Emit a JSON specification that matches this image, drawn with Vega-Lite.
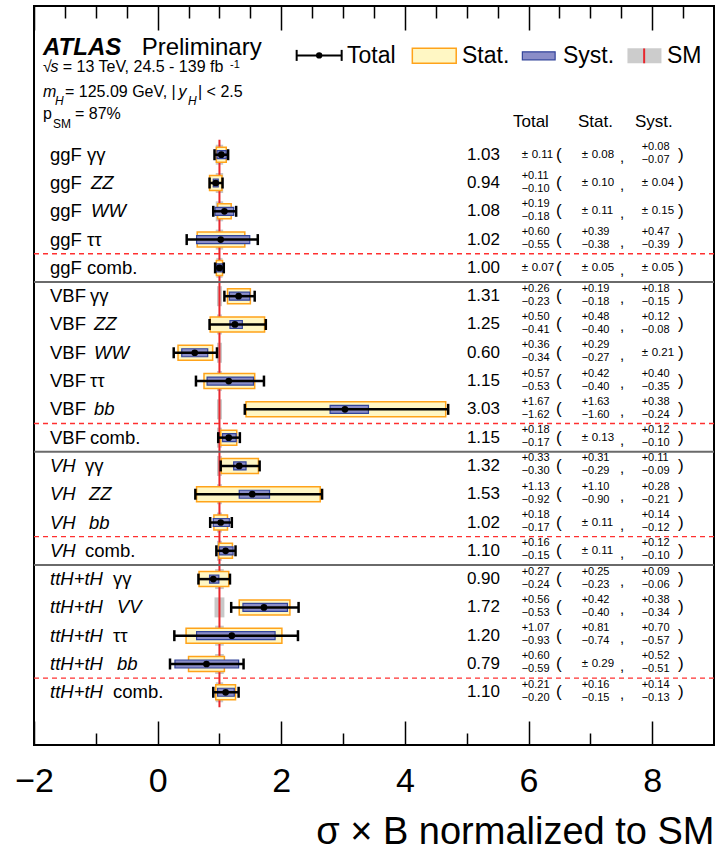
{
  "$schema": "https://vega.github.io/schema/vega-lite/v6.json",
  "width": 680,
  "height": 739,
  "autosize": {"type": "none"},
  "padding": {"left": 34, "top": 6, "right": 2, "bottom": 107},
  "background": "white",
  "config": {
    "view": {"stroke": "black", "strokeWidth": 2},
    "font": "Liberation Sans",
    "text": {"color": "black", "font": "Liberation Sans"}
  },
  "data": {"name": "rows"},
  "datasets": {
    "rows": [
      {"pos": 0, "prod": "ggF", "dec": "γγ", "mu": 1.03, "tlo": 0.92, "thi": 1.14, "slo": 0.95, "shi": 1.11, "ylo": 0.96, "yhi": 1.11, "smlo": 0.94, "smhi": 1.06, "tu": 0.11, "td": -0.11, "su": 0.08, "sd": -0.08, "yu": 0.08, "yd": -0.07},
      {"pos": 1, "prod": "ggF", "dec": "ZZ", "mu": 0.94, "tlo": 0.84, "thi": 1.05, "slo": 0.84, "shi": 1.04, "ylo": 0.90, "yhi": 0.98, "smlo": 0.94, "smhi": 1.06, "tu": 0.11, "td": -0.10, "su": 0.10, "sd": -0.10, "yu": 0.04, "yd": -0.04},
      {"pos": 2, "prod": "ggF", "dec": "WW", "mu": 1.08, "tlo": 0.90, "thi": 1.27, "slo": 0.97, "shi": 1.19, "ylo": 0.93, "yhi": 1.23, "smlo": 0.94, "smhi": 1.06, "tu": 0.19, "td": -0.18, "su": 0.11, "sd": -0.11, "yu": 0.15, "yd": -0.15},
      {"pos": 3, "prod": "ggF", "dec": "ττ", "mu": 1.02, "tlo": 0.47, "thi": 1.62, "slo": 0.64, "shi": 1.41, "ylo": 0.63, "yhi": 1.49, "smlo": 0.94, "smhi": 1.06, "tu": 0.60, "td": -0.55, "su": 0.39, "sd": -0.38, "yu": 0.47, "yd": -0.39},
      {"pos": 4, "prod": "ggF", "dec": "comb.", "mu": 1.00, "tlo": 0.93, "thi": 1.07, "slo": 0.95, "shi": 1.05, "ylo": 0.95, "yhi": 1.05, "smlo": 0.95, "smhi": 1.05, "tu": 0.07, "td": -0.07, "su": 0.05, "sd": -0.05, "yu": 0.05, "yd": -0.05},
      {"pos": 5, "prod": "VBF", "dec": "γγ", "mu": 1.31, "tlo": 1.08, "thi": 1.57, "slo": 1.13, "shi": 1.50, "ylo": 1.16, "yhi": 1.49, "smlo": 0.96, "smhi": 1.04, "tu": 0.26, "td": -0.23, "su": 0.19, "sd": -0.18, "yu": 0.18, "yd": -0.15},
      {"pos": 6, "prod": "VBF", "dec": "ZZ", "mu": 1.25, "tlo": 0.84, "thi": 1.75, "slo": 0.85, "shi": 1.73, "ylo": 1.17, "yhi": 1.37, "smlo": 0.96, "smhi": 1.04, "tu": 0.50, "td": -0.41, "su": 0.48, "sd": -0.40, "yu": 0.12, "yd": -0.08},
      {"pos": 7, "prod": "VBF", "dec": "WW", "mu": 0.60, "tlo": 0.26, "thi": 0.96, "slo": 0.33, "shi": 0.89, "ylo": 0.39, "yhi": 0.81, "smlo": 0.96, "smhi": 1.04, "tu": 0.36, "td": -0.34, "su": 0.29, "sd": -0.27, "yu": 0.21, "yd": -0.21},
      {"pos": 8, "prod": "VBF", "dec": "ττ", "mu": 1.15, "tlo": 0.62, "thi": 1.72, "slo": 0.75, "shi": 1.57, "ylo": 0.80, "yhi": 1.55, "smlo": 0.96, "smhi": 1.04, "tu": 0.57, "td": -0.53, "su": 0.42, "sd": -0.40, "yu": 0.40, "yd": -0.35},
      {"pos": 9, "prod": "VBF", "dec": "bb", "mu": 3.03, "tlo": 1.41, "thi": 4.70, "slo": 1.43, "shi": 4.66, "ylo": 2.79, "yhi": 3.41, "smlo": 0.96, "smhi": 1.04, "tu": 1.67, "td": -1.62, "su": 1.63, "sd": -1.60, "yu": 0.38, "yd": -0.24},
      {"pos": 10, "prod": "VBF", "dec": "comb.", "mu": 1.15, "tlo": 0.98, "thi": 1.33, "slo": 1.02, "shi": 1.28, "ylo": 1.05, "yhi": 1.27, "smlo": 0.96, "smhi": 1.04, "tu": 0.18, "td": -0.17, "su": 0.13, "sd": -0.13, "yu": 0.12, "yd": -0.10},
      {"pos": 11, "prod": "VH", "dec": "γγ", "mu": 1.32, "tlo": 1.02, "thi": 1.65, "slo": 1.03, "shi": 1.63, "ylo": 1.23, "yhi": 1.43, "smlo": 0.96, "smhi": 1.04, "tu": 0.33, "td": -0.30, "su": 0.31, "sd": -0.29, "yu": 0.11, "yd": -0.09},
      {"pos": 12, "prod": "VH", "dec": "ZZ", "mu": 1.53, "tlo": 0.61, "thi": 2.66, "slo": 0.63, "shi": 2.63, "ylo": 1.32, "yhi": 1.81, "smlo": 0.96, "smhi": 1.04, "tu": 1.13, "td": -0.92, "su": 1.10, "sd": -0.90, "yu": 0.28, "yd": -0.21},
      {"pos": 13, "prod": "VH", "dec": "bb", "mu": 1.02, "tlo": 0.85, "thi": 1.20, "slo": 0.91, "shi": 1.13, "ylo": 0.90, "yhi": 1.16, "smlo": 0.96, "smhi": 1.04, "tu": 0.18, "td": -0.17, "su": 0.11, "sd": -0.11, "yu": 0.14, "yd": -0.12},
      {"pos": 14, "prod": "VH", "dec": "comb.", "mu": 1.10, "tlo": 0.95, "thi": 1.26, "slo": 0.99, "shi": 1.21, "ylo": 1.00, "yhi": 1.22, "smlo": 0.96, "smhi": 1.04, "tu": 0.16, "td": -0.15, "su": 0.11, "sd": -0.11, "yu": 0.12, "yd": -0.10},
      {"pos": 15, "prod": "ttH+tH", "dec": "γγ", "mu": 0.90, "tlo": 0.66, "thi": 1.17, "slo": 0.67, "shi": 1.15, "ylo": 0.84, "yhi": 0.99, "smlo": 0.93, "smhi": 1.07, "tu": 0.27, "td": -0.24, "su": 0.25, "sd": -0.23, "yu": 0.09, "yd": -0.06},
      {"pos": 16, "prod": "ttH+tH", "dec": "VV", "mu": 1.72, "tlo": 1.19, "thi": 2.28, "slo": 1.32, "shi": 2.14, "ylo": 1.38, "yhi": 2.10, "smlo": 0.92, "smhi": 1.08, "tu": 0.56, "td": -0.53, "su": 0.42, "sd": -0.40, "yu": 0.38, "yd": -0.34},
      {"pos": 17, "prod": "ttH+tH", "dec": "ττ", "mu": 1.20, "tlo": 0.27, "thi": 2.27, "slo": 0.46, "shi": 2.01, "ylo": 0.63, "yhi": 1.90, "smlo": 0.93, "smhi": 1.07, "tu": 1.07, "td": -0.93, "su": 0.81, "sd": -0.74, "yu": 0.70, "yd": -0.57},
      {"pos": 18, "prod": "ttH+tH", "dec": "bb", "mu": 0.79, "tlo": 0.20, "thi": 1.39, "slo": 0.50, "shi": 1.08, "ylo": 0.28, "yhi": 1.31, "smlo": 0.93, "smhi": 1.07, "tu": 0.60, "td": -0.59, "su": 0.29, "sd": -0.29, "yu": 0.52, "yd": -0.51},
      {"pos": 19, "prod": "ttH+tH", "dec": "comb.", "mu": 1.10, "tlo": 0.90, "thi": 1.31, "slo": 0.94, "shi": 1.26, "ylo": 0.97, "yhi": 1.24, "smlo": 0.94, "smhi": 1.06, "tu": 0.21, "td": -0.20, "su": 0.16, "sd": -0.15, "yu": 0.14, "yd": -0.13}
    ]
  },
  "resolve": {"axis": {"x": "independent"}},
  "layer": [
    {
      "mark": {"type": "bar", "orient": "horizontal", "size": 20, "color": "#c8c8c8"},
      "encoding": {
        "x": {"field": "smlo", "type": "quantitative", "scale": {"domain": [-2, 9], "nice": false, "zero": false},
          "axis": {"orient": "bottom", "values": [-2, -1.5, -1, -0.5, 0, 0.5, 1, 1.5, 2, 2.5, 3, 3.5, 4, 4.5, 5, 5.5, 6, 6.5, 7, 7.5, 8, 8.5],
            "format": "d", "labelExpr": "datum.value % 2 == 0 ? datum.label : ''",
            "labelFont": "Liberation Sans", "labelFontSize": 34, "labelColor": "black", "labelPadding": 43, "labelBaseline": "top",
            "labelFlush": false, "labelOverlap": false, "domain": false, "grid": false,
            "tickColor": "black", "tickWidth": 1.5,
            "tickSize": {"condition": {"test": "datum.value % 2 == 0", "value": -24}, "value": -12},
            "title": "σ × B normalized to SM", "titleFont": "Liberation Sans", "titleFontSize": 38, "titleFontWeight": "normal",
            "titleColor": "black", "titleAnchor": "end", "titleAlign": "right", "titleX": 680, "titleY": 98, "titleBaseline": "alphabetic"}},
        "x2": {"field": "smhi"},
        "y": {"field": "pos", "type": "quantitative", "scale": {"domain": [-5.08, 20.687], "reverse": true, "nice": false, "zero": false}, "axis": null}
      }
    },
    {
      "data": {"values": [{}]},
      "mark": {"type": "rule", "color": "#e8262d", "strokeWidth": 2},
      "encoding": {
        "x": {"datum": 1, "type": "quantitative",
          "axis": {"orient": "top", "values": [-2, -1.5, -1, -0.5, 0, 0.5, 1, 1.5, 2, 2.5, 3, 3.5, 4, 4.5, 5, 5.5, 6, 6.5, 7, 7.5, 8, 8.5],
            "labels": false, "domain": false, "grid": false, "title": null, "tickColor": "black", "tickWidth": 1.5,
            "tickSize": {"condition": {"test": "datum.value % 2 == 0", "value": -24}, "value": -12}}},
        "y": {"datum": -0.525, "type": "quantitative", "axis": null},
        "y2": {"datum": 19.53}
      }
    },
    {
      "data": {"values": [{"s": 3.5}, {"s": 9.5}, {"s": 13.5}, {"s": 18.5}]},
      "mark": {"type": "rule", "color": "#ff3030", "strokeWidth": 1.4, "strokeDash": [5, 4]},
      "encoding": {"y": {"field": "s", "type": "quantitative", "axis": null}}
    },
    {
      "data": {"values": [{"s": 4.5}, {"s": 10.5}, {"s": 14.5}]},
      "mark": {"type": "rule", "color": "#6a6a6a", "strokeWidth": 2},
      "encoding": {"y": {"field": "s", "type": "quantitative", "axis": null}}
    },
    {
      "mark": {"type": "bar", "orient": "horizontal", "size": 15, "fill": "#fff7c4", "stroke": "#ffa31a", "strokeWidth": 1.5},
      "encoding": {
        "x": {"field": "slo", "type": "quantitative", "axis": null}, "x2": {"field": "shi"},
        "y": {"field": "pos", "type": "quantitative", "axis": null}
      }
    },
    {
      "mark": {"type": "bar", "orient": "horizontal", "size": 8, "fill": "#8a8dc8", "stroke": "#33449a", "strokeWidth": 1.2},
      "encoding": {
        "x": {"field": "ylo", "type": "quantitative", "axis": null}, "x2": {"field": "yhi"},
        "y": {"field": "pos", "type": "quantitative", "axis": null}
      }
    },
    {
      "mark": {"type": "rule", "color": "black", "strokeWidth": 2.5},
      "encoding": {
        "x": {"field": "tlo", "type": "quantitative", "axis": null}, "x2": {"field": "thi"},
        "y": {"field": "pos", "type": "quantitative", "axis": null}
      }
    },
    {
      "mark": {"type": "tick", "orient": "vertical", "size": 11, "thickness": 2.5, "color": "black", "opacity": 1},
      "encoding": {
        "x": {"field": "tlo", "type": "quantitative", "axis": null},
        "y": {"field": "pos", "type": "quantitative", "axis": null}
      }
    },
    {
      "mark": {"type": "tick", "orient": "vertical", "size": 11, "thickness": 2.5, "color": "black", "opacity": 1},
      "encoding": {
        "x": {"field": "thi", "type": "quantitative", "axis": null},
        "y": {"field": "pos", "type": "quantitative", "axis": null}
      }
    },
    {
      "mark": {"type": "circle", "size": 45, "color": "black", "opacity": 1},
      "encoding": {
        "x": {"field": "mu", "type": "quantitative", "axis": null},
        "y": {"field": "pos", "type": "quantitative", "axis": null}
      }
    },
    {
      "mark": {"type": "text", "fontSize": 18.5, "align": "left", "baseline": "middle",
        "fontStyle": {"expr": "datum.prod == 'VH' || datum.prod == 'ttH+tH' ? 'italic' : 'normal'"}},
      "encoding": {
        "text": {"field": "prod"},
        "x": {"datum": -1.741, "type": "quantitative", "axis": null},
        "y": {"field": "pos", "type": "quantitative", "axis": null}
      }
    },
    {
      "mark": {"type": "text", "fontSize": 18.5, "align": "left", "baseline": "middle",
        "fontStyle": {"expr": "indexof(['ZZ','WW','bb','VV'], datum.dec) >= 0 ? 'italic' : 'normal'"},
        "dx": {"expr": "(datum.prod == 'ggF' ? 37 : datum.prod == 'VBF' ? 40 : datum.prod == 'VH' ? 35 : 63) + (indexof(['ZZ','WW','bb','VV'], datum.dec) >= 0 ? 4 : 0)"}},
      "encoding": {
        "text": {"field": "dec"},
        "x": {"datum": -1.741, "type": "quantitative", "axis": null},
        "y": {"field": "pos", "type": "quantitative", "axis": null}
      }
    },
    {
      "mark": {"type": "text", "fontSize": 17, "align": "right", "baseline": "middle"},
      "encoding": {
        "text": {"field": "mu", "type": "quantitative", "format": ".2f"},
        "x": {"datum": 5.538, "type": "quantitative", "axis": null},
        "y": {"field": "pos", "type": "quantitative", "axis": null}
      }
    },
    {
      "mark": {"type": "text", "fontSize": 17, "align": "left", "baseline": "middle", "text": "("},
      "encoding": {"x": {"datum": 6.444, "type": "quantitative", "axis": null}, "y": {"field": "pos", "type": "quantitative", "axis": null}}
    },
    {
      "mark": {"type": "text", "fontSize": 15, "align": "left", "baseline": "middle", "text": ",", "dy": 2},
      "encoding": {"x": {"datum": 7.479, "type": "quantitative", "axis": null}, "y": {"field": "pos", "type": "quantitative", "axis": null}}
    },
    {
      "mark": {"type": "text", "fontSize": 17, "align": "left", "baseline": "middle", "text": ")"},
      "encoding": {"x": {"datum": 8.417, "type": "quantitative", "axis": null}, "y": {"field": "pos", "type": "quantitative", "axis": null}}
    },
    {
      "transform": [{"filter": "abs(datum.tu + datum.td) < 0.001"}],
      "mark": {"type": "text", "fontSize": 11.5, "align": "left", "baseline": "middle", "text": "±"},
      "encoding": {"x": {"datum": 5.889, "type": "quantitative", "axis": null}, "y": {"field": "pos", "type": "quantitative", "axis": null}}
    },
    {
      "transform": [{"filter": "abs(datum.tu + datum.td) < 0.001"}],
      "mark": {"type": "text", "fontSize": 11.5, "align": "left", "baseline": "middle", "dx": 10},
      "encoding": {"text": {"field": "tu", "type": "quantitative", "format": ".2f"}, "x": {"datum": 5.889, "type": "quantitative", "axis": null}, "y": {"field": "pos", "type": "quantitative", "axis": null}}
    },
    {
      "transform": [{"filter": "abs(datum.tu + datum.td) >= 0.001"}],
      "mark": {"type": "text", "fontSize": 11, "align": "left", "baseline": "alphabetic", "dy": -4.5},
      "encoding": {"text": {"field": "tu", "type": "quantitative", "format": "+.2f"}, "x": {"datum": 5.889, "type": "quantitative", "axis": null}, "y": {"field": "pos", "type": "quantitative", "axis": null}}
    },
    {
      "transform": [{"filter": "abs(datum.tu + datum.td) >= 0.001"}],
      "mark": {"type": "text", "fontSize": 11, "align": "left", "baseline": "alphabetic", "dy": 8.5},
      "encoding": {"text": {"field": "td", "type": "quantitative", "format": "+.2f"}, "x": {"datum": 5.889, "type": "quantitative", "axis": null}, "y": {"field": "pos", "type": "quantitative", "axis": null}}
    },
    {
      "transform": [{"filter": "abs(datum.su + datum.sd) < 0.001"}],
      "mark": {"type": "text", "fontSize": 11.5, "align": "left", "baseline": "middle", "text": "±"},
      "encoding": {"x": {"datum": 6.859, "type": "quantitative", "axis": null}, "y": {"field": "pos", "type": "quantitative", "axis": null}}
    },
    {
      "transform": [{"filter": "abs(datum.su + datum.sd) < 0.001"}],
      "mark": {"type": "text", "fontSize": 11.5, "align": "left", "baseline": "middle", "dx": 10},
      "encoding": {"text": {"field": "su", "type": "quantitative", "format": ".2f"}, "x": {"datum": 6.859, "type": "quantitative", "axis": null}, "y": {"field": "pos", "type": "quantitative", "axis": null}}
    },
    {
      "transform": [{"filter": "abs(datum.su + datum.sd) >= 0.001"}],
      "mark": {"type": "text", "fontSize": 11, "align": "left", "baseline": "alphabetic", "dy": -4.5},
      "encoding": {"text": {"field": "su", "type": "quantitative", "format": "+.2f"}, "x": {"datum": 6.859, "type": "quantitative", "axis": null}, "y": {"field": "pos", "type": "quantitative", "axis": null}}
    },
    {
      "transform": [{"filter": "abs(datum.su + datum.sd) >= 0.001"}],
      "mark": {"type": "text", "fontSize": 11, "align": "left", "baseline": "alphabetic", "dy": 8.5},
      "encoding": {"text": {"field": "sd", "type": "quantitative", "format": "+.2f"}, "x": {"datum": 6.859, "type": "quantitative", "axis": null}, "y": {"field": "pos", "type": "quantitative", "axis": null}}
    },
    {
      "transform": [{"filter": "abs(datum.yu + datum.yd) < 0.001"}],
      "mark": {"type": "text", "fontSize": 11.5, "align": "left", "baseline": "middle", "text": "±"},
      "encoding": {"x": {"datum": 7.830, "type": "quantitative", "axis": null}, "y": {"field": "pos", "type": "quantitative", "axis": null}}
    },
    {
      "transform": [{"filter": "abs(datum.yu + datum.yd) < 0.001"}],
      "mark": {"type": "text", "fontSize": 11.5, "align": "left", "baseline": "middle", "dx": 10},
      "encoding": {"text": {"field": "yu", "type": "quantitative", "format": ".2f"}, "x": {"datum": 7.830, "type": "quantitative", "axis": null}, "y": {"field": "pos", "type": "quantitative", "axis": null}}
    },
    {
      "transform": [{"filter": "abs(datum.yu + datum.yd) >= 0.001"}],
      "mark": {"type": "text", "fontSize": 11, "align": "left", "baseline": "alphabetic", "dy": -4.5},
      "encoding": {"text": {"field": "yu", "type": "quantitative", "format": "+.2f"}, "x": {"datum": 7.830, "type": "quantitative", "axis": null}, "y": {"field": "pos", "type": "quantitative", "axis": null}}
    },
    {
      "transform": [{"filter": "abs(datum.yu + datum.yd) >= 0.001"}],
      "mark": {"type": "text", "fontSize": 11, "align": "left", "baseline": "alphabetic", "dy": 8.5},
      "encoding": {"text": {"field": "yd", "type": "quantitative", "format": "+.2f"}, "x": {"datum": 7.830, "type": "quantitative", "axis": null}, "y": {"field": "pos", "type": "quantitative", "axis": null}}
    },
    {
      "data": {"values": [{"t": "Total", "x": 5.748}, {"t": "Stat.", "x": 6.800}, {"t": "Syst.", "x": 7.722}]},
      "mark": {"type": "text", "fontSize": 17, "align": "left", "baseline": "alphabetic"},
      "encoding": {"text": {"field": "t"}, "x": {"field": "x", "type": "quantitative", "axis": null}, "y": {"datum": -0.963, "type": "quantitative", "axis": null}}
    },
    {
      "data": {"values": [{}]},
      "mark": {"type": "rule", "color": "black", "strokeWidth": 2},
      "encoding": {"x": {"datum": 2.249, "type": "quantitative", "axis": null}, "x2": {"datum": 2.977}, "y": {"datum": -3.511, "type": "quantitative", "axis": null}}
    },
    {
      "data": {"values": [{"v": 2.249}, {"v": 2.977}]},
      "mark": {"type": "tick", "orient": "vertical", "size": 11, "thickness": 2, "color": "black", "opacity": 1},
      "encoding": {"x": {"field": "v", "type": "quantitative", "axis": null}, "y": {"datum": -3.511, "type": "quantitative", "axis": null}}
    },
    {
      "data": {"values": [{}]},
      "mark": {"type": "circle", "size": 40, "color": "black", "opacity": 1},
      "encoding": {"x": {"datum": 2.613, "type": "quantitative", "axis": null}, "y": {"datum": -3.511, "type": "quantitative", "axis": null}}
    },
    {
      "data": {"values": [{}]},
      "mark": {"type": "bar", "orient": "horizontal", "size": 15, "fill": "#fff7c4", "stroke": "#ffa31a", "strokeWidth": 1.5},
      "encoding": {"x": {"datum": 4.12, "type": "quantitative", "axis": null}, "x2": {"datum": 4.83}, "y": {"datum": -3.494, "type": "quantitative", "axis": null}}
    },
    {
      "data": {"values": [{}]},
      "mark": {"type": "bar", "orient": "horizontal", "size": 8, "fill": "#8a8dc8", "stroke": "#33449a", "strokeWidth": 1.2},
      "encoding": {"x": {"datum": 5.90, "type": "quantitative", "axis": null}, "x2": {"datum": 6.43}, "y": {"datum": -3.494, "type": "quantitative", "axis": null}}
    },
    {
      "data": {"values": [{}]},
      "mark": {"type": "bar", "orient": "horizontal", "size": 15, "fill": "#cccccc"},
      "encoding": {"x": {"datum": 7.60, "type": "quantitative", "axis": null}, "x2": {"datum": 8.15}, "y": {"datum": -3.494, "type": "quantitative", "axis": null}}
    },
    {
      "data": {"values": [{}]},
      "mark": {"type": "rule", "color": "#e8262d", "strokeWidth": 2},
      "encoding": {"x": {"datum": 7.87, "type": "quantitative", "axis": null}, "y": {"datum": -3.756, "type": "quantitative", "axis": null}, "y2": {"datum": -3.232}}
    },
    {
      "data": {"values": [{"t": "Total", "x": 3.063}, {"t": "Stat.", "x": 4.923}, {"t": "Syst.", "x": 6.557}, {"t": "SM", "x": 8.240}]},
      "mark": {"type": "text", "fontSize": 23, "align": "left", "baseline": "middle"},
      "encoding": {"text": {"field": "t"}, "x": {"field": "x", "type": "quantitative", "axis": null}, "y": {"datum": -3.494, "type": "quantitative", "axis": null}}
    },
    {
      "data": {"values": [{}]},
      "mark": {"type": "text", "text": "ATLAS", "fontSize": 24, "fontStyle": "italic", "fontWeight": "bold", "align": "left", "baseline": "alphabetic"},
      "encoding": {"x": {"datum": -1.854, "type": "quantitative", "axis": null}, "y": {"datum": -3.53, "type": "quantitative", "axis": null}}
    },
    {
      "data": {"values": [{}]},
      "mark": {"type": "text", "text": "Preliminary", "fontSize": 24, "align": "left", "baseline": "alphabetic"},
      "encoding": {"x": {"datum": -0.258, "type": "quantitative", "axis": null}, "y": {"datum": -3.53, "type": "quantitative", "axis": null}}
    },
    {
      "data": {"values": [{"t": "√", "x": -1.854}, {"t": "= 13 TeV, 24.5 - 139 fb", "x": -1.535}]},
      "mark": {"type": "text", "fontSize": 16, "align": "left", "baseline": "alphabetic"},
      "encoding": {"text": {"field": "t"}, "x": {"field": "x", "type": "quantitative", "axis": null}, "y": {"datum": -2.93, "type": "quantitative", "axis": null}}
    },
    {
      "data": {"values": [{}]},
      "mark": {"type": "text", "text": "s", "fontSize": 16, "fontStyle": "italic", "align": "left", "baseline": "alphabetic"},
      "encoding": {"x": {"datum": -1.735, "type": "quantitative", "axis": null}, "y": {"datum": -2.93, "type": "quantitative", "axis": null}}
    },
    {
      "data": {"values": [{}]},
      "mark": {"type": "text", "text": "-1", "fontSize": 11, "align": "left", "baseline": "alphabetic"},
      "encoding": {"x": {"datum": 1.17, "type": "quantitative", "axis": null}, "y": {"datum": -3.08, "type": "quantitative", "axis": null}}
    },
    {
      "data": {"values": [{"t": "m", "x": -1.854}, {"t": "y", "x": 0.338}]},
      "mark": {"type": "text", "fontSize": 16, "fontStyle": "italic", "align": "left", "baseline": "alphabetic"},
      "encoding": {"text": {"field": "t"}, "x": {"field": "x", "type": "quantitative", "axis": null}, "y": {"datum": -2.05, "type": "quantitative", "axis": null}}
    },
    {
      "data": {"values": [{"t": "H", "x": -1.66}, {"t": "H", "x": 0.491}]},
      "mark": {"type": "text", "fontSize": 12, "fontStyle": "italic", "align": "left", "baseline": "alphabetic"},
      "encoding": {"text": {"field": "t"}, "x": {"field": "x", "type": "quantitative", "axis": null}, "y": {"datum": -1.77, "type": "quantitative", "axis": null}}
    },
    {
      "data": {"values": [{"t": "= 125.09 GeV, |", "x": -1.499}, {"t": "| < 2.5", "x": 0.653}]},
      "mark": {"type": "text", "fontSize": 16, "align": "left", "baseline": "alphabetic"},
      "encoding": {"text": {"field": "t"}, "x": {"field": "x", "type": "quantitative", "axis": null}, "y": {"datum": -2.05, "type": "quantitative", "axis": null}}
    },
    {
      "data": {"values": [{"t": "p", "x": -1.854}, {"t": "= 87%", "x": -1.337}]},
      "mark": {"type": "text", "fontSize": 16, "align": "left", "baseline": "alphabetic"},
      "encoding": {"text": {"field": "t"}, "x": {"field": "x", "type": "quantitative", "axis": null}, "y": {"datum": -1.28, "type": "quantitative", "axis": null}}
    },
    {
      "data": {"values": [{}]},
      "mark": {"type": "text", "text": "SM", "fontSize": 12, "align": "left", "baseline": "alphabetic"},
      "encoding": {"x": {"datum": -1.693, "type": "quantitative", "axis": null}, "y": {"datum": -0.93, "type": "quantitative", "axis": null}}
    }
  ]
}
